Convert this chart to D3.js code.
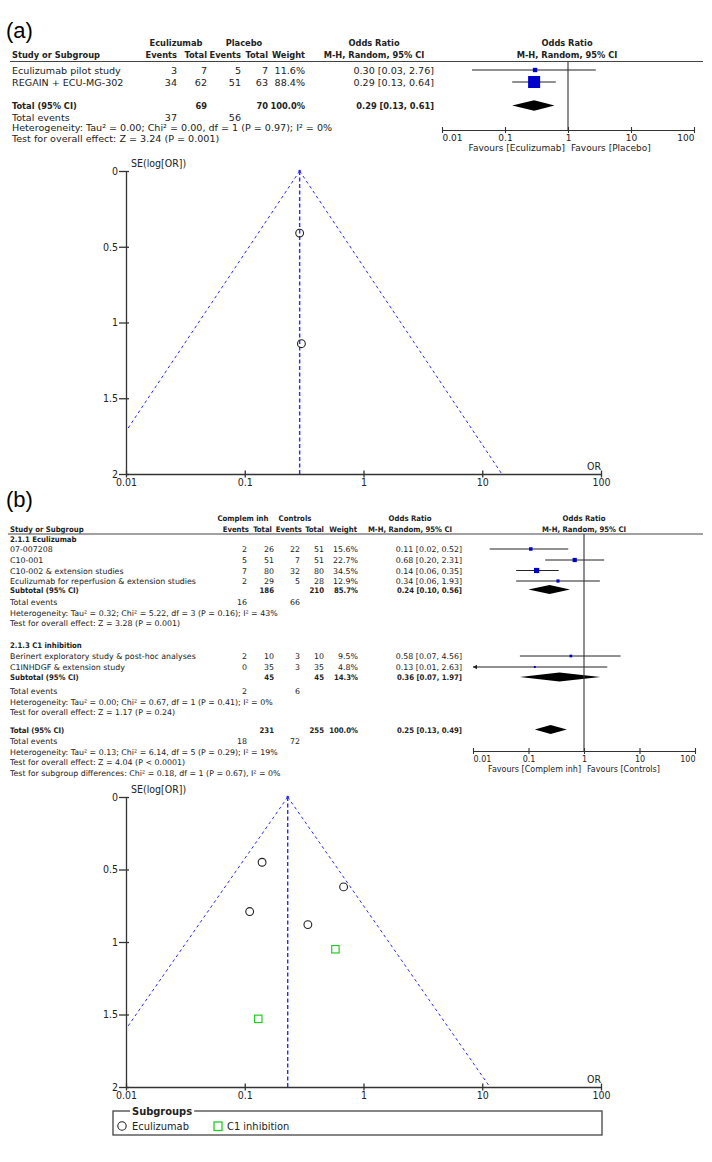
<!DOCTYPE html>
<html>
<head>
<meta charset="utf-8">
<script src="https://cdn.jsdelivr.net/npm/d3@7"></script>
<style>
body { margin: 0; background: #fff; }
svg { display: block; }
</style>
</head>
<body>
<script>
/* Data
***********************************************************************/
var orTicks = [0.01, 0.1, 1, 10, 100];
var seTicks = [0, 0.5, 1, 1.5, 2];

// (a) Eculizumab vs placebo
var studiesA = ["Eculizumab pilot study", "REGAIN + ECU-MG-302"];
var evTrtA = [3, 34];
var nTrtA = [7, 62];
var evCtlA = [5, 51];
var nCtlA = [7, 63];
var weightA = [11.6, 88.4];
var orA = [0.30, 0.29];
var loA = [0.03, 0.13];
var hiA = [2.76, 0.64];
var totalNA = [69, 70];
var totalWeightA = 100.0;
var pooledA = [0.29, 0.13, 0.61];
var totalEventsA = [37, 56];
var statsA = [
	"Heterogeneity: Tau\u00b2 = 0.00; Chi\u00b2 = 0.00, df = 1 (P = 0.97); I\u00b2 = 0%",
	"Test for overall effect: Z = 3.24 (P = 0.001)"
];
var seA = [1.14, 0.41];      // funnel y values
var funnelCentreA = 0.29;

// (b) Complement inhibitors vs controls
var groupNames = ["2.1.1 Eculizumab", "2.1.3 C1 inhibition"];
var subgroupLabels = ["Eculizumab", "C1 inhibition"];
var studiesB = [
	["07-007208", "C10-001", "C10-002 & extension studies", "Eculizumab for reperfusion & extension studies"],
	["Berinert exploratory study & post-hoc analyses", "C1INHDGF & extension study"]
];
var evTrtB = [[2, 5, 7, 2], [2, 0]];
var nTrtB = [[26, 51, 80, 29], [10, 35]];
var evCtlB = [[22, 7, 32, 5], [3, 3]];
var nCtlB = [[51, 51, 80, 28], [10, 35]];
var weightB = [[15.6, 22.7, 34.5, 12.9], [9.5, 4.8]];
var orB = [[0.11, 0.68, 0.14, 0.34], [0.58, 0.13]];
var loB = [[0.02, 0.20, 0.06, 0.06], [0.07, 0.01]];
var hiB = [[0.52, 2.31, 0.35, 1.93], [4.56, 2.63]];
var subNB = [[186, 210], [45, 45]];
var subWeightB = [85.7, 14.3];
var subOrB = [[0.24, 0.10, 0.56], [0.36, 0.07, 1.97]];
var subEventsB = [[16, 66], [2, 6]];
var subStatsB = [
	["Heterogeneity: Tau\u00b2 = 0.32; Chi\u00b2 = 5.22, df = 3 (P = 0.16); I\u00b2 = 43%",
	 "Test for overall effect: Z = 3.28 (P = 0.001)"],
	["Heterogeneity: Tau\u00b2 = 0.00; Chi\u00b2 = 0.67, df = 1 (P = 0.41); I\u00b2 = 0%",
	 "Test for overall effect: Z = 1.17 (P = 0.24)"]
];
var totalNB = [231, 255];
var totalWeightB = 100.0;
var totalOrB = [0.25, 0.13, 0.49];
var totalEventsB = [18, 72];
var totalStatsB = [
	"Heterogeneity: Tau\u00b2 = 0.13; Chi\u00b2 = 6.14, df = 5 (P = 0.29); I\u00b2 = 19%",
	"Test for overall effect: Z = 4.04 (P < 0.0001)",
	"Test for subgroup differences: Chi\u00b2 = 0.18, df = 1 (P = 0.67), I\u00b2 = 0%"
];
var seB = [[0.79, 0.62, 0.45, 0.88], [1.05, 1.53]];
var funnelCentreB = 0.23;


/* Setup
***********************************************************************/
var svgW = 712;
var svgH = 1162;

var svg = d3.select("body").append("svg")
	.attr("width", svgW)
	.attr("height", svgH);

var FONT = "'DejaVu Sans', Verdana, sans-serif";
var CFONT = "'DejaVu Sans Condensed', 'DejaVu Sans', sans-serif";
var LFONT = "'Liberation Sans', Arial, sans-serif";
var INK = "#222";
var AXC = "#333";
var SQ = "#0000cc";
var FUN = "#2a2aff";
var GREEN = "#22cc22";

var fmt2 = d3.format(".2f");
var fmt1 = d3.format(".1f");
function orText(o, l, h) { return fmt2(o) + " [" + fmt2(l) + ", " + fmt2(h) + "]"; }
function pct(w) { return fmt1(w) + "%"; }

// font size that makes a string a given width
function fitSize(str, target) {
	var t = svg.append("text")
		.style("font-family", FONT)
		.style("font-size", "10px")
		.text(str);
	var w = t.node().getComputedTextLength();
	t.remove();
	return 10 * target / w;
}
var fsA = fitSize("Eculizumab pilot study", 109);
var fsB = fitSize("Berinert exploratory study & post-hoc analyses", 186);
var bsA = fsA * 0.96;   // bold cells use the condensed face
var bsB = fsB * 0.98;

function put(g, x, y, s, o) {
	o = o || {};
	return g.append("text")
		.attr("x", x)
		.attr("y", y)
		.attr("text-anchor", o.anchor || "start")
		.style("font-family", o.font || (o.bold ? CFONT : FONT))
		.style("font-size", o.size + "px")
		.style("font-weight", o.bold ? "bold" : "normal")
		.attr("fill", o.fill || INK)
		.text(s);
}

function hline(g, x1, x2, y, c) {
	g.append("line").attr("x1", x1).attr("x2", x2).attr("y1", y).attr("y2", y)
		.attr("stroke", c || "#444").attr("stroke-width", 1);
}


/* Forest plot helpers
***********************************************************************/
function forestAxis(g, x, y, size) {
	var ax = g.append("g")
		.attr("transform", "translate(0," + y + ")")
		.call(d3.axisBottom(x).tickValues(orTicks).tickFormat(String)
			.tickSizeInner(3).tickSizeOuter(0).tickPadding(2));
	ax.attr("font-family", FONT).attr("font-size", size);
	ax.select(".domain").attr("stroke", AXC).attr("stroke-width", 1.1);
	ax.selectAll(".tick line").attr("y1", -3).attr("y2", 3).attr("stroke", AXC).attr("stroke-width", 1.1);
	ax.selectAll(".tick text").attr("fill", INK)
		.attr("text-anchor", function(d, i) { return i == 0 ? "start" : (i == orTicks.length - 1 ? "end" : "middle"); });
	return ax;
}

function ciMark(g, x, y, or, lo, hi, sz) {
	var xmin = x.domain()[0];
	var x1 = x(Math.max(lo, xmin));
	g.append("line").attr("x1", x1).attr("x2", x(hi)).attr("y1", y).attr("y2", y)
		.attr("stroke", INK).attr("stroke-width", 1);
	if (lo <= xmin) {
		g.append("path")
			.attr("d", "M" + x1 + "," + y + "l4,-2.2l0,4.4z")
			.attr("fill", INK);
	}
	g.append("rect")
		.attr("x", x(or) - sz / 2).attr("y", y - sz / 2)
		.attr("width", sz).attr("height", sz)
		.attr("fill", SQ);
}

function diamond(g, x, y, p, h) {
	var pts = [[x(p[1]), y], [x(p[0]), y - h / 2], [x(p[2]), y], [x(p[0]), y + h / 2]];
	g.append("polygon").attr("points", pts.map(function(q) { return q.join(","); }).join(" "))
		.attr("fill", "#000");
}


/* Funnel plot helper
***********************************************************************/
function funnel(id, top, bottom, centre, points) {
	var g = svg.append("g").attr("id", id);
	var x = d3.scaleLog().domain([0.01, 100]).range([126, 601]);
	var y = d3.scaleLinear().domain([0, 2]).range([top, bottom]);

	svg.append("clipPath").attr("id", "clip" + id)
		.append("rect")
		.attr("x", x(0.01)).attr("y", y(0) - 1)
		.attr("width", x(100) - x(0.01)).attr("height", y(2) - y(0) + 1);

	var lines = g.append("g").attr("clip-path", "url(#clip" + id + ")");
	lines.append("line")
		.attr("x1", x(centre)).attr("x2", x(centre)).attr("y1", y(0)).attr("y2", y(2))
		.attr("stroke", FUN).attr("stroke-width", 1.4).attr("stroke-dasharray", "4,2.5");
	[-1, 1].forEach(function(s) {
		lines.append("line")
			.attr("x1", x(centre)).attr("y1", y(0))
			.attr("x2", x(centre * Math.exp(s * 1.96 * 2))).attr("y2", y(2))
			.attr("stroke", FUN).attr("stroke-width", 1).attr("stroke-dasharray", "3,3");
	});
	g.append("circle").attr("cx", x(centre)).attr("cy", y(0)).attr("r", 1.3).attr("fill", FUN);

	var xa = g.append("g")
		.attr("transform", "translate(0," + y(2) + ")")
		.call(d3.axisBottom(x).tickValues(orTicks).tickFormat(String)
			.tickSizeInner(3.5).tickSizeOuter(0).tickPadding(1));
	var ya = g.append("g")
		.attr("transform", "translate(" + x(0.01) + ",0)")
		.call(d3.axisLeft(y).tickValues(seTicks).tickFormat(String)
			.tickSizeInner(7).tickSizeOuter(0).tickPadding(1));
	[xa, ya].forEach(function(a) {
		a.attr("font-family", CFONT).attr("font-size", 10.5);
		a.select(".domain").attr("stroke", AXC).attr("stroke-width", 1.3);
		a.selectAll(".tick line").attr("stroke", AXC).attr("stroke-width", 1.3);
		a.selectAll(".tick text").attr("fill", INK);
	});
	xa.selectAll(".tick line").attr("y1", -3.5);
	ya.selectAll(".tick line").attr("x1", 3);

	put(g, x(0.01) + 5, y(0) - 4, "SE(log[OR])", {size: 10.5, font: CFONT});
	put(g, x(100), y(2) - 4, "OR", {size: 10.5, font: CFONT, anchor: "end"});

	points.forEach(function(p) {
		if (p.shape == "square") {
			g.append("rect")
				.attr("x", x(p.or) - 3.7).attr("y", y(p.se) - 3.7)
				.attr("width", 7.4).attr("height", 7.4)
				.attr("fill", "none").attr("stroke", GREEN).attr("stroke-width", 1.2);
		} else {
			g.append("circle")
				.attr("cx", x(p.or)).attr("cy", y(p.se)).attr("r", 3.9)
				.attr("fill", "none").attr("stroke", INK).attr("stroke-width", 1.1);
		}
	});
	return g;
}


/* Panel (a)
***********************************************************************/
var gA = svg.append("g").attr("id", "panelA");
put(gA, 6, 38, "(a)", {size: 22, font: LFONT, fill: "#000"});

var cA = {study: 12, e1: 177, t1: 207, e2: 241, t2: 268, w: 305, or: 434, orMid: 374, fMid: 567};
var rowYA = [70, 82];
var totalYA = 105.5;

put(gA, 176, 46, "Eculizumab", {size: bsA, bold: true, anchor: "middle"});
put(gA, 244, 46, "Placebo", {size: bsA, bold: true, anchor: "middle"});
put(gA, cA.orMid, 46, "Odds Ratio", {size: bsA, bold: true, anchor: "middle"});
put(gA, cA.fMid, 46, "Odds Ratio", {size: bsA, bold: true, anchor: "middle"});
put(gA, cA.study, 58, "Study or Subgroup", {size: bsA, bold: true});
put(gA, cA.e1, 58, "Events", {size: bsA, bold: true, anchor: "end"});
put(gA, cA.t1, 58, "Total", {size: bsA, bold: true, anchor: "end"});
put(gA, cA.e2, 58, "Events", {size: bsA, bold: true, anchor: "end"});
put(gA, cA.t2, 58, "Total", {size: bsA, bold: true, anchor: "end"});
put(gA, cA.w, 58, "Weight", {size: bsA, bold: true, anchor: "end"});
put(gA, cA.orMid, 58, "M-H, Random, 95% CI", {size: bsA, bold: true, anchor: "middle"});
put(gA, cA.fMid, 58, "M-H, Random, 95% CI", {size: bsA, bold: true, anchor: "middle"});
hline(gA, 10, 703, 61.5);

studiesA.forEach(function(s, i) {
	var y = rowYA[i] + 3.5;
	put(gA, cA.study, y, s, {size: fsA});
	put(gA, cA.e1, y, evTrtA[i], {size: fsA, anchor: "end"});
	put(gA, cA.t1, y, nTrtA[i], {size: fsA, anchor: "end"});
	put(gA, cA.e2, y, evCtlA[i], {size: fsA, anchor: "end"});
	put(gA, cA.t2, y, nCtlA[i], {size: fsA, anchor: "end"});
	put(gA, cA.w, y, pct(weightA[i]), {size: fsA, anchor: "end"});
	put(gA, cA.or, y, orText(orA[i], loA[i], hiA[i]), {size: fsA, anchor: "end"});
});
var yT = totalYA + 3.5;
put(gA, cA.study, yT, "Total (95% CI)", {size: bsA, bold: true});
put(gA, cA.t1, yT, totalNA[0], {size: bsA, bold: true, anchor: "end"});
put(gA, cA.t2, yT, totalNA[1], {size: bsA, bold: true, anchor: "end"});
put(gA, cA.w, yT, pct(totalWeightA), {size: bsA, bold: true, anchor: "end"});
put(gA, cA.or, yT, orText(pooledA[0], pooledA[1], pooledA[2]), {size: bsA, bold: true, anchor: "end"});
put(gA, cA.study, 120.5, "Total events", {size: fsA});
put(gA, cA.e1, 120.5, totalEventsA[0], {size: fsA, anchor: "end"});
put(gA, cA.e2, 120.5, totalEventsA[1], {size: fsA, anchor: "end"});
put(gA, cA.study, 131, statsA[0], {size: fsA});
put(gA, cA.study, 141.5, statsA[1], {size: fsA});

// forest (a)
var xFA = d3.scaleLog().domain([0.01, 100]).range([442, 694]);
var szA = d3.scaleSqrt().domain([0, 100]).range([0, 12.8]);
var axisYA = 130;
gA.append("line").attr("x1", xFA(1)).attr("x2", xFA(1)).attr("y1", 61.5).attr("y2", axisYA)
	.attr("stroke", AXC).attr("stroke-width", 1.1);
studiesA.forEach(function(s, i) {
	ciMark(gA, xFA, rowYA[i], orA[i], loA[i], hiA[i], szA(weightA[i]));
});
diamond(gA, xFA, totalYA, pooledA, 10.5);
forestAxis(gA, xFA, axisYA, 9);
put(gA, xFA(1) - 3, 151, "Favours [Eculizumab]", {size: 9, anchor: "end"});
put(gA, xFA(1) + 3, 151, "Favours [Placebo]", {size: 9});

// funnel (a)
funnel("funnelA", 171, 474, funnelCentreA, orA.map(function(o, i) {
	return {or: o, se: seA[i], shape: "circle"};
}));


/* Panel (b)
***********************************************************************/
var gB = svg.append("g").attr("id", "panelB");
put(gB, 6, 507, "(b)", {size: 22, font: LFONT, fill: "#000"});

var cB = {study: 10, e1: 247, t1: 274, e2: 300, t2: 324, w: 358, or: 462, orMid: 410, fMid: 584};
var hB = {e1: 249, t1: 272, e2: 302, t2: 324, w: 357};
var headYB = [521, 531.5];
var groupYB = [538.5, 645];
var rowYB = [[549, 560, 570.5, 581], [656, 667]];
var subYB = [589.5, 677];
var subEvYB = [602, 691];
var subStatYB = [[612.5, 623], [701.5, 712]];
var totalYB = 729.5;
var totalEvYB = 740.5;
var totalStatYB = [751.5, 762, 772.5];
var axisYB = 751;

put(gB, 243, headYB[0], "Complem inh", {size: bsB, bold: true, anchor: "middle"});
put(gB, 295, headYB[0], "Controls", {size: bsB, bold: true, anchor: "middle"});
put(gB, cB.orMid, headYB[0], "Odds Ratio", {size: bsB, bold: true, anchor: "middle"});
put(gB, cB.fMid, headYB[0], "Odds Ratio", {size: bsB, bold: true, anchor: "middle"});
put(gB, cB.study, headYB[1], "Study or Subgroup", {size: bsB, bold: true});
put(gB, hB.e1, headYB[1], "Events", {size: bsB, bold: true, anchor: "end"});
put(gB, hB.t1, headYB[1], "Total", {size: bsB, bold: true, anchor: "end"});
put(gB, hB.e2, headYB[1], "Events", {size: bsB, bold: true, anchor: "end"});
put(gB, hB.t2, headYB[1], "Total", {size: bsB, bold: true, anchor: "end"});
put(gB, hB.w, headYB[1], "Weight", {size: bsB, bold: true, anchor: "end"});
put(gB, cB.orMid, headYB[1], "M-H, Random, 95% CI", {size: bsB, bold: true, anchor: "middle"});
put(gB, cB.fMid, headYB[1], "M-H, Random, 95% CI", {size: bsB, bold: true, anchor: "middle"});
hline(gB, 8, 703, 534);

var xFB = d3.scaleLog().domain([0.01, 100]).range([473, 695]);
var szB = d3.scaleSqrt().domain([0, 34.5]).range([0, 5.2]);
var off = 3;

groupNames.forEach(function(gname, k) {
	put(gB, cB.study, groupYB[k] + off, gname, {size: bsB, bold: true});
	studiesB[k].forEach(function(s, i) {
		var y = rowYB[k][i] + off;
		put(gB, cB.study, y, s, {size: fsB});
		put(gB, cB.e1, y, evTrtB[k][i], {size: fsB, anchor: "end"});
		put(gB, cB.t1, y, nTrtB[k][i], {size: fsB, anchor: "end"});
		put(gB, cB.e2, y, evCtlB[k][i], {size: fsB, anchor: "end"});
		put(gB, cB.t2, y, nCtlB[k][i], {size: fsB, anchor: "end"});
		put(gB, cB.w, y, pct(weightB[k][i]), {size: fsB, anchor: "end"});
		put(gB, cB.or, y, orText(orB[k][i], loB[k][i], hiB[k][i]), {size: fsB, anchor: "end"});
		ciMark(gB, xFB, rowYB[k][i], orB[k][i], loB[k][i], hiB[k][i], szB(weightB[k][i]));
	});
	var ys = subYB[k] + off;
	put(gB, cB.study, ys, "Subtotal (95% CI)", {size: bsB, bold: true});
	put(gB, cB.t1, ys, subNB[k][0], {size: bsB, bold: true, anchor: "end"});
	put(gB, cB.t2, ys, subNB[k][1], {size: bsB, bold: true, anchor: "end"});
	put(gB, cB.w, ys, pct(subWeightB[k]), {size: bsB, bold: true, anchor: "end"});
	put(gB, cB.or, ys, orText(subOrB[k][0], subOrB[k][1], subOrB[k][2]), {size: bsB, bold: true, anchor: "end"});
	diamond(gB, xFB, subYB[k], subOrB[k], 9);
	put(gB, cB.study, subEvYB[k] + off, "Total events", {size: fsB});
	put(gB, cB.e1, subEvYB[k] + off, subEventsB[k][0], {size: fsB, anchor: "end"});
	put(gB, cB.e2, subEvYB[k] + off, subEventsB[k][1], {size: fsB, anchor: "end"});
	subStatsB[k].forEach(function(t, j) {
		put(gB, cB.study, subStatYB[k][j] + off, t, {size: fsB});
	});
});

put(gB, cB.study, totalYB + off, "Total (95% CI)", {size: bsB, bold: true});
put(gB, cB.t1, totalYB + off, totalNB[0], {size: bsB, bold: true, anchor: "end"});
put(gB, cB.t2, totalYB + off, totalNB[1], {size: bsB, bold: true, anchor: "end"});
put(gB, cB.w, totalYB + off, pct(totalWeightB), {size: bsB, bold: true, anchor: "end"});
put(gB, cB.or, totalYB + off, orText(totalOrB[0], totalOrB[1], totalOrB[2]), {size: bsB, bold: true, anchor: "end"});
diamond(gB, xFB, totalYB, totalOrB, 9);
put(gB, cB.study, totalEvYB + off, "Total events", {size: fsB});
put(gB, cB.e1, totalEvYB + off, totalEventsB[0], {size: fsB, anchor: "end"});
put(gB, cB.e2, totalEvYB + off, totalEventsB[1], {size: fsB, anchor: "end"});
totalStatsB.forEach(function(t, j) {
	put(gB, cB.study, totalStatYB[j] + off, t, {size: fsB});
});

gB.append("line").attr("x1", xFB(1)).attr("x2", xFB(1)).attr("y1", 534).attr("y2", axisYB)
	.attr("stroke", AXC).attr("stroke-width", 1.1);
forestAxis(gB, xFB, axisYB, 8);
put(gB, xFB(1) - 3, 771.5, "Favours [Complem inh]", {size: 8, anchor: "end"});
put(gB, xFB(1) + 3, 771.5, "Favours [Controls]", {size: 8});

// funnel (b)
var ptsB = [];
orB.forEach(function(grp, k) {
	grp.forEach(function(o, i) {
		ptsB.push({or: o, se: seB[k][i], shape: k == 0 ? "circle" : "square"});
	});
});
funnel("funnelB", 797, 1087, funnelCentreB, ptsB);

// legend
var lg = svg.append("g").attr("id", "legend");
lg.append("rect").attr("x", 113).attr("y", 1111).attr("width", 489).attr("height", 24)
	.attr("fill", "none").attr("stroke", "#444").attr("stroke-width", 1.3);
var title = put(lg, 132, 1115, "Subgroups", {size: 11, font: CFONT, bold: true});
var tb = title.node().getBBox();
lg.insert("rect", "text").attr("x", tb.x - 2).attr("y", tb.y).attr("width", tb.width + 4).attr("height", tb.height)
	.attr("fill", "#fff");
lg.append("circle").attr("cx", 122).attr("cy", 1126).attr("r", 4.2)
	.attr("fill", "none").attr("stroke", INK).attr("stroke-width", 1.1);
put(lg, 132, 1130, subgroupLabels[0], {size: 11, font: CFONT});
lg.append("rect").attr("x", 214).attr("y", 1122).attr("width", 8).attr("height", 8.5)
	.attr("fill", "none").attr("stroke", GREEN).attr("stroke-width", 1.3);
put(lg, 227, 1130, subgroupLabels[1], {size: 11, font: CFONT});
</script>
</body>
</html>
